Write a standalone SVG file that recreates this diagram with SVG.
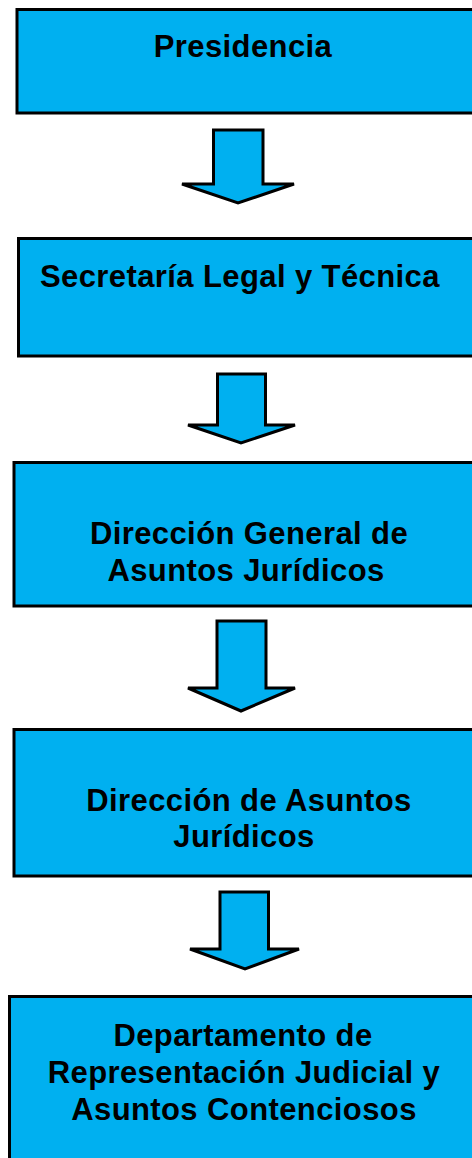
<svg xmlns="http://www.w3.org/2000/svg" width="472" height="1158" viewBox="0 0 472 1158">
<style>
.box{fill:#00B0F0;stroke:#000;stroke-width:3}
.arr{fill:#00B0F0;stroke:#000;stroke-width:3;stroke-linejoin:miter}
.t{font-family:"Liberation Sans",Arial,sans-serif;font-weight:bold;font-size:31px;letter-spacing:0.4px;fill:#000}
.c{text-anchor:middle}
</style>
<rect x="0" y="0" width="472" height="1158" fill="#fff"/>
<g id="connectors">
<polygon class="arr" points="213.5,130 263,130 263,184 294,184 238,203 182,184 213.5,184"/>
<polygon class="arr" points="217.5,374 265.5,374 265.5,425 295,425 241,443 188,425 217.5,425"/>
<polygon class="arr" points="217,621 266,621 266,688 295,688 241,711 188,688 217,688"/>
<polygon class="arr" points="220,892 268.5,892 268.5,949 299,949 245,969 190,949 220,949"/>
</g>
<g id="presidencia">
<rect class="box" x="17" y="9.5" width="470" height="103.5"/>
<text class="t c" x="243" y="57">Presidencia</text>
</g>
<g id="secretaria">
<rect class="box" x="18.5" y="238.5" width="470" height="117.5"/>
<text class="t" x="40" y="287">Secretaría Legal y Técnica</text>
</g>
<g id="direccion-general">
<rect class="box" x="14" y="462.5" width="470" height="143.5"/>
<text class="t c" x="249" y="544">Dirección General de</text>
<text class="t c" x="246" y="581">Asuntos Jurídicos</text>
</g>
<g id="direccion">
<rect class="box" x="14" y="729.5" width="470" height="146.5"/>
<text class="t c" x="249" y="811">Dirección de Asuntos</text>
<text class="t c" x="244" y="847">Jurídicos</text>
</g>
<g id="departamento">
<rect class="box" x="9.5" y="996.5" width="470" height="200"/>
<text class="t c" x="243" y="1046">Departamento de</text>
<text class="t c" x="244" y="1083">Representación Judicial y</text>
<text class="t c" x="244" y="1120">Asuntos Contenciosos</text>
</g>
</svg>
